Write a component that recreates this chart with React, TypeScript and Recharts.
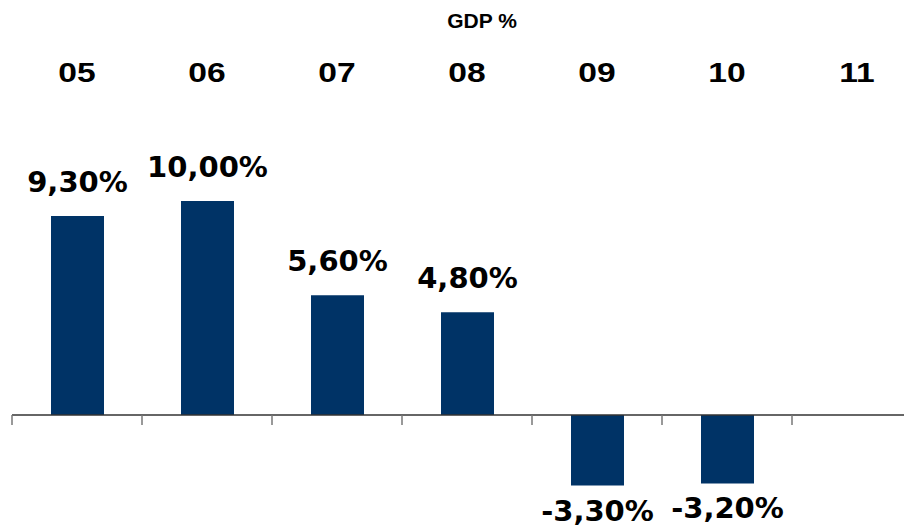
import React from 'react';
import { BarChart, Bar, XAxis, YAxis, ReferenceLine, LabelList } from 'recharts';

const title = 'GDP %';
const categories = ['05', '06', '07', '08', '09', '10', '11'];
const gdpValues = [9.3, 10.0, 5.6, 4.8, -3.3, -3.2, 0.0];
const boundaries = [0, 1, 2, 3, 4, 5, 6, 7];

const data = categories.map((c, i) => ({ cat: c, value: gdpValues[i], pos: i + 0.5 }));

const formatPct = (v: number) => v.toFixed(2).replace('.', ',') + '%';

const CatTick = (props: any) => {
  const { x, y, payload } = props;
  return (
    <text
      x={0}
      y={0}
      transform={`translate(${x},${y}) scale(1.2,1)`}
      textAnchor="middle"
      fontFamily="'Liberation Sans', Arial, sans-serif"
      fontWeight="bold"
      fontSize={28}
      fill="#000"
    >
      {payload.value}
    </text>
  );
};

const renderLabel = (props: any) => {
  const { x, y, width, height, value } = props;
  const cx = Number(x) + Number(width) / 2;
  const top = Math.min(Number(y), Number(y) + Number(height));
  const bottom = Math.max(Number(y), Number(y) + Number(height));
  const v = Number(value);
  let ty = top - 24;
  let fs = 29;
  if (v === 0) {
    ty = bottom - 63;
    fs = 23;
  } else if (v < 0) {
    ty = bottom + 35;
  }
  return (
    <text
      x={cx}
      y={ty}
      textAnchor="middle"
      fontFamily="'DejaVu Sans', Verdana, sans-serif"
      fontWeight="bold"
      fontSize={fs}
      fill="#000"
    >
      {formatPct(v)}
    </text>
  );
};

export default function App() {
  return (
    <div style={{ position: 'relative', width: 904, height: 519 }}>
      <BarChart
        width={904}
        height={519}
        data={data}
        margin={{ top: 56, left: 4, right: -10, bottom: 5 }}
        barSize={53}
      >
        <XAxis
          dataKey="cat"
          orientation="top"
          height={30}
          axisLine={false}
          tickLine={false}
          tickSize={0}
          tickMargin={12}
          tick={<CatTick />}
          interval={0}
        />
        <XAxis
          xAxisId="b"
          dataKey="pos"
          type="number"
          scale="linear"
          domain={() => [0, categories.length]}
          allowDataOverflow
          hide
        />
        <YAxis hide domain={[-5, 15]} />
        <ReferenceLine y={0} stroke="#333" strokeWidth={1.5} />
        {boundaries.map((b) => (
          <ReferenceLine
            key={b}
            xAxisId="b"
            segment={[
              { x: b, y: 0 },
              { x: b, y: -0.47 },
            ]}
            stroke="#777"
            strokeWidth={1.5}
            ifOverflow="visible"
          />
        ))}
        <Bar dataKey="value" fill="#003366" isAnimationActive={false}>
          <LabelList dataKey="value" content={renderLabel} />
        </Bar>
      </BarChart>
      <div
        style={{
          position: 'absolute',
          left: 474,
          top: 2,
          transform: 'translateX(-50%)',
          fontFamily: "'Liberation Sans', Arial, sans-serif",
          fontWeight: 'bold',
          fontSize: 21,
          lineHeight: '21px',
          whiteSpace: 'nowrap',
          color: '#000',
          pointerEvents: 'none',
        }}
      >
        {title}
      </div>
    </div>
  );
}
